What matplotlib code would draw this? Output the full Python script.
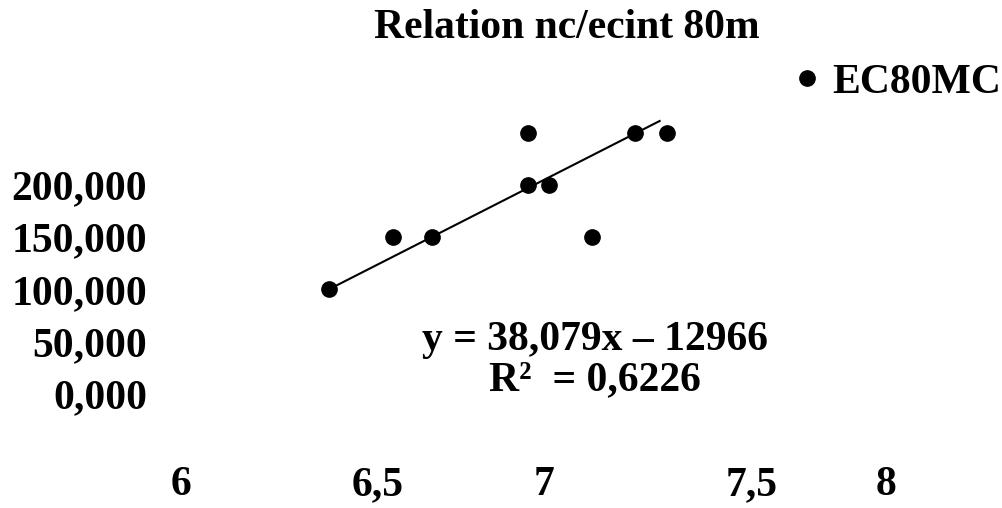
import matplotlib
matplotlib.use("Agg")
import matplotlib.pyplot as plt
from matplotlib.transforms import ScaledTranslation

# values
nc = [6.39, 6.57, 6.68, 6.95, 6.95, 7.01, 7.13, 7.25, 7.34]
ecint = [100, 150, 150, 250, 200, 200, 150, 250, 250]
trend_x = [6.39, 7.32]
trend_y = [100, 261]

x_ticks = [6, 6.5, 7, 7.5, 8]
x_labels = ["6", "6,5", "7", "7,5", "8"]
y_ticks = [0, 50, 100, 150, 200]
y_labels = ["0,000", "50,000", "100,000", "150,000", "200,000"]

title = "Relation nc/ecint 80m"
series_name = "EC80MC"
equation = "y = 38,079x – 12966\nR²  = 0,6226"

# the original renderer placed the x labels unevenly (pixel nudges)
x_label_nudge = [-9, 10, -2, 28, -16]


def main():
    plt.rcParams["font.family"] = ["Liberation Serif", "DejaVu Serif"]
    plt.rcParams["font.weight"] = "bold"
    fs = 30

    fig = plt.figure(figsize=(10.03, 5.08), dpi=100)
    ax = fig.add_axes([190 / 1003, 114 / 508, 711.6 / 1003, 261.5 / 508])
    ax.set_xlim(6, 8)
    ax.set_ylim(0, 250)

    ax.plot(trend_x, trend_y, color="black", lw=1.5, clip_on=False)
    pts, = ax.plot(nc, ecint, "o", color="black", ms=11, clip_on=False,
                   label=series_name)

    ax.set_xticks(x_ticks)
    ax.set_xticklabels(x_labels, fontsize=fs, fontweight="bold")
    ax.set_yticks(y_ticks)
    ax.set_yticklabels(y_labels, fontsize=fs, fontweight="bold")
    ax.tick_params(axis="x", length=0, pad=52)
    ax.tick_params(axis="y", length=0, pad=31)
    for s in ax.spines.values():
        s.set_visible(False)

    for lab, dx in zip(ax.get_xticklabels(), x_label_nudge):
        lab.set_transform(lab.get_transform()
                          + ScaledTranslation(dx / 100, 0, fig.dpi_scale_trans))

    fig.text(567 / 1003, 1 - 28 / 508, title, ha="center", va="center",
             fontsize=fs, fontweight="bold")
    ax.text(595 / 1003, 1 - 360 / 508, equation, transform=fig.transFigure,
            ha="center", va="center", fontsize=fs, fontweight="bold",
            linespacing=1.1, multialignment="center")

    fig.legend(handles=[pts], loc="center right",
               bbox_to_anchor=(1001 / 1003, 1 - 83 / 508), frameon=False,
               fontsize=fs, markerscale=1.0, handlelength=0.6,
               handletextpad=0.3, borderaxespad=0, borderpad=0)

    fig.savefig("out.png", dpi=100)


if __name__ == "__main__":
    main()
